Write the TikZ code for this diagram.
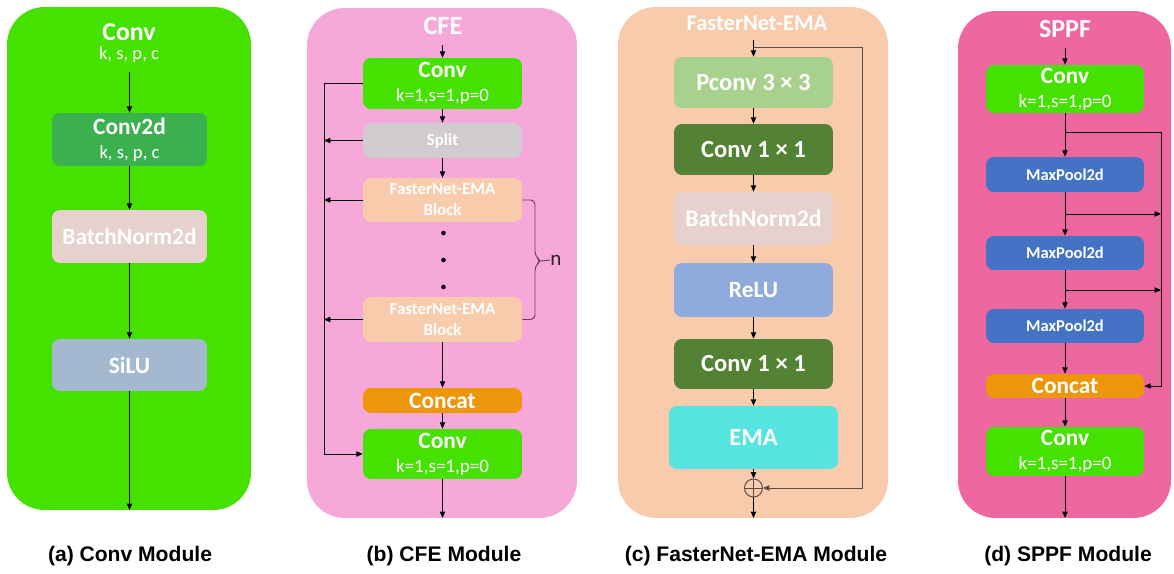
\documentclass[tikz,border=0pt]{standalone}
\usepackage{fontspec}
\setmainfont{Carlito}
\newfontfamily\capfont{Liberation Sans}
\usetikzlibrary{arrows.meta}
\definecolor{cgreen}{HTML}{45E100}
\definecolor{cdgreen}{HTML}{3BB04F}
\definecolor{cbn}{HTML}{E6D1CE}
\definecolor{csilu}{HTML}{A4B9CF}
\definecolor{cpink}{HTML}{F6A8D9}
\definecolor{csplit}{HTML}{D1CCCF}
\definecolor{cpeach}{HTML}{F8CBAD}
\definecolor{corange}{HTML}{EE960A}
\definecolor{cpconv}{HTML}{A9D18E}
\definecolor{cconv}{HTML}{548235}
\definecolor{crelu}{HTML}{8FAADC}
\definecolor{cema}{HTML}{55E4E0}
\definecolor{cmag}{HTML}{EE67A1}
\definecolor{cmax}{HTML}{4472C4}
\definecolor{cbrace}{HTML}{6A3D5E}
\definecolor{cfb}{HTML}{5A4A48}
\begin{document}
\begin{tikzpicture}[x=0.02cm,y=-0.02cm,
  box/.style={rounded corners=0.16cm, text=white, align=center, inner sep=0pt, minimum width=3.18cm},
  panel/.style={rounded corners=0.75cm, inner sep=0pt},
  arr/.style={-{Triangle[length=3.6pt,width=3pt]}, line width=0.55pt},
  ln/.style={line width=0.55pt},
  ttl/.style={text=white, font=\bfseries\fontsize{14.7}{16}\selectfont, inner sep=0pt},
  subt/.style={text=white, font=\fontsize{10.6}{12}\selectfont, inner sep=0pt},
  captxt/.style={font=\capfont\bfseries\fontsize{12}{14}\selectfont, inner sep=0pt},
  bigt/.style={font=\bfseries\fontsize{13.3}{13.6}\selectfont},
  bigc/.style={font=\bfseries\fontsize{14}{16}\selectfont},
  smt/.style={font=\bfseries\fontsize{9.6}{11.9}\selectfont},
  dot/.style={circle, fill=black, inner sep=0pt, minimum size=2.6pt},
]
\useasboundingbox (0,0) rectangle (1174,574);

% ---------------- panels ----------------
\node[panel, fill=cgreen, minimum width=4.88cm, minimum height=10.06cm] (pa) at (129,258.5) {};
\node[panel, fill=cpink, minimum width=5.4cm, minimum height=10.2cm] (pb) at (442,263) {};
\node[panel, fill=cpeach, minimum width=5.4cm, minimum height=10.22cm] (pc) at (753,262.5) {};
\node[panel, fill=cmag, minimum width=4.26cm, minimum height=10.14cm] (pd) at (1064.5,264.5) {};

% ---------------- (a) Conv ----------------
\node[ttl] (ta) at (129,32) {Conv};
\node[subt] (sa) at (129,55) {k, s, p, c};
\coordinate (ia) at (129.5,72);
\node[box, bigt, fill=cdgreen, minimum width=3.1cm, minimum height=1.06cm] (a1) at (129.5,139.5)
  {Conv2d\\{\mdseries\fontsize{10.6}{13.6}\selectfont k, s, p, c}};
\node[box, bigt, fill=cbn, minimum width=3.1cm, minimum height=1.06cm] (a2) at (129.5,236.5) {BatchNorm2d};
\node[box, bigt, fill=csilu, minimum width=3.1cm, minimum height=1.04cm] (a3) at (129.5,365) {SiLU};
\coordinate (oa) at (129.5,510);
\draw[arr] (ia) -- (a1.north);
\draw[arr] (a1.south) -- (a2.north);
\draw[arr] (a2.south) -- (a3.north);
\draw[arr] (a3.south) -- (oa);
\node[captxt] (capa) at (130,556) {(a) Conv Module};

% ---------------- (b) CFE ----------------
\node[ttl, font=\bfseries\fontsize{15}{16}\selectfont] (tb) at (443,26) {CFE};
\coordinate (ib) at (442.5,45);
\node[box, bigt, fill=cgreen, minimum height=1.02cm] (b1) at (442.5,83.5)
  {Conv\\{\mdseries\fontsize{10.8}{13.6}\selectfont k=1,s=1,p=0}};
\node[box, smt, fill=csplit, minimum height=0.7cm] (b2) at (442.5,140.5) {Split};
\node[box, smt, fill=cpeach, minimum height=0.88cm] (b3) at (442.5,200) {FasterNet-EMA\\Block};
\node[dot] (d1) at (443.5,233) {};
\node[dot] (d2) at (443.5,260) {};
\node[dot] (d3) at (443.5,287) {};
\node[box, smt, fill=cpeach, minimum height=0.9cm] (b4) at (442.5,319.5) {FasterNet-EMA\\Block};
\node[box, bigt, fill=corange, minimum height=0.5cm] (b5) at (442.5,400.5) {Concat};
\node[box, bigt, fill=cgreen, minimum height=1.0cm] (b6) at (442.5,454)
  {Conv\\{\mdseries\fontsize{10.8}{13.6}\selectfont k=1,s=1,p=0}};
\coordinate (ob) at (442.5,518);
\coordinate (busb) at (324,0);
\draw[arr] (ib) -- (b1.north);
\draw[arr] (b1.south) -- (b2.north);
\draw[arr] (b2.south) -- (b3.north);
\draw[arr] (b4.south) -- (b5.north);
\draw[arr] (b5.south) -- (b6.north);
\draw[arr] (b6.south) -- (ob);
\draw[arr] (b1.west) -| (busb |- b6.west) -- (b6.west);
\draw[arr] (b2.west) -- (b2.west -| busb);
\draw[arr] (b3.west) -- (b3.west -| busb);
\draw[arr] (b4.west) -- (b4.west -| busb);
\coordinate (tipb) at (541,261);
\draw[ln, cbrace, rounded corners=2.5pt] (b3.east) -- (535,200) -- (535,256) -- (tipb) -- (535,266) -- (535,319.5) -- (b4.east);
\node[inner sep=0pt, font=\fontsize{12}{14}\selectfont, text=black!85] (nb) at (556,260) {n};
\draw[ln, cbrace] (tipb) -- (nb.west);
\node[captxt] (capb) at (444,556) {(b) CFE Module};

% ---------------- (c) FasterNet-EMA ----------------
\node[ttl, font=\bfseries\fontsize{12.8}{14}\selectfont] (tc) at (757,23) {FasterNet-EMA};
\coordinate (ic) at (753.5,40);
\coordinate (jc) at (753.5,47);
\node[box, bigc, fill=cpconv, minimum height=1.02cm] (c1) at (753.5,82.5) {Pconv 3 × 3};
\node[box, bigc, fill=cconv, minimum height=1.02cm] (c2) at (753.5,149.5) {Conv 1 × 1};
\node[box, bigt, font=\bfseries\fontsize{13.5}{15}\selectfont, fill=cbn, minimum height=1.06cm] (c3) at (753.5,218.5) {BatchNorm2d};
\node[box, bigt, font=\bfseries\fontsize{13.3}{15}\selectfont, fill=crelu, minimum height=1.08cm] (c4) at (753.5,290) {ReLU};
\node[box, bigc, fill=cconv, minimum height=1.0cm] (c5) at (753.5,364) {Conv 1 × 1};
\node[box, bigc, fill=cema, minimum width=3.38cm, minimum height=1.26cm] (c6) at (753.5,437.5) {EMA};
\node[circle, draw=cfb, line width=0.55pt, minimum size=0.36cm, inner sep=0pt] (plus) at (753.5,488) {};
\draw[cfb, line width=0.5pt] (plus.north) -- (plus.south) (plus.west) -- (plus.east);
\coordinate (oc) at (753.5,518);
\coordinate (busc) at (862,0);
\draw[arr] (ic) -- (c1.north);
\draw[arr] (c1.south) -- (c2.north);
\draw[arr] (c2.south) -- (c3.north);
\draw[arr] (c3.south) -- (c4.north);
\draw[arr] (c4.south) -- (c5.north);
\draw[arr] (c5.south) -- (c6.north);
\draw[arr] (c6.south) -- (plus.north);
\draw[arr] (plus.south) -- (oc);
\draw[arr, cfb] (jc) -| (busc |- plus.east) -- (plus.east);
\node[captxt] (capc) at (756,556) {(c) FasterNet-EMA Module};

% ---------------- (d) SPPF ----------------
\node[ttl, font=\bfseries\fontsize{14.8}{16}\selectfont] (td) at (1065,29) {SPPF};
\coordinate (id) at (1065,48);
\node[box, bigt, fill=cgreen, minimum width=3.16cm, minimum height=0.96cm] (e1) at (1065,89)
  {Conv\\{\mdseries\fontsize{10.8}{14}\selectfont k=1,s=1,p=0}};
\node[box, smt, font=\bfseries\fontsize{9.4}{11}\selectfont, fill=cmax, minimum width=3.16cm, minimum height=0.7cm] (e2) at (1065,174.5) {MaxPool2d};
\node[box, smt, font=\bfseries\fontsize{9.4}{11}\selectfont, fill=cmax, minimum width=3.16cm, minimum height=0.68cm] (e3) at (1065,253) {MaxPool2d};
\node[box, smt, font=\bfseries\fontsize{9.4}{11}\selectfont, fill=cmax, minimum width=3.16cm, minimum height=0.68cm] (e4) at (1065,326) {MaxPool2d};
\node[box, bigt, fill=corange, minimum width=3.16cm, minimum height=0.48cm] (e5) at (1065,386) {Concat};
\node[box, bigt, fill=cgreen, minimum width=3.16cm, minimum height=0.98cm] (e6) at (1065,451.5)
  {Conv\\{\mdseries\fontsize{10.8}{14}\selectfont k=1,s=1,p=0}};
\coordinate (od) at (1065,518);
\coordinate (busd) at (1161,0);
\coordinate (jd1) at (1065,132);
\coordinate (jd2) at (1065,214);
\coordinate (jd3) at (1065,290);
\draw[arr] (id) -- (e1.north);
\draw[arr] (e1.south) -- (e2.north);
\draw[arr] (e2.south) -- (e3.north);
\draw[arr] (e3.south) -- (e4.north);
\draw[arr] (e4.south) -- (e5.north);
\draw[arr] (e5.south) -- (e6.north);
\draw[arr] (e6.south) -- (od);
\draw[arr] (jd1) -| (busd |- e5.east) -- (e5.east);
\draw[arr] (jd2) -- (jd2 -| busd);
\draw[arr] (jd3) -- (jd3 -| busd);
\node[captxt] (capd) at (1068,556) {(d) SPPF Module};
\end{tikzpicture}
\end{document}
